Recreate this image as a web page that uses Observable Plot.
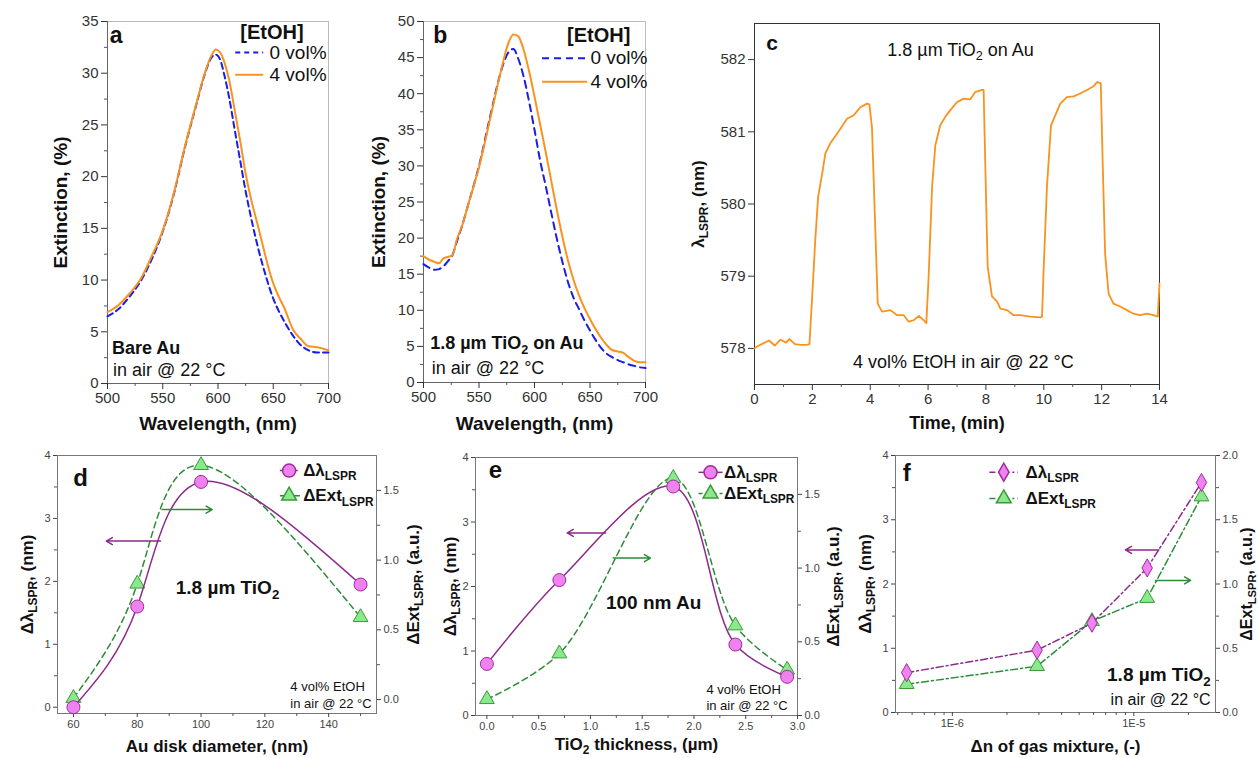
<!DOCTYPE html>
<html><head><meta charset="utf-8">
<script src="https://cdn.jsdelivr.net/npm/d3@7"></script>
<script src="https://cdn.jsdelivr.net/npm/@observablehq/plot@0.6"></script>
<style>
html,body{margin:0;padding:0;background:#fff;}
#fig{position:relative;width:1258px;height:758px;overflow:hidden;background:#fff;font-family:"Liberation Sans",Arial,sans-serif;}
</style>
</head><body><div id="fig"></div>
<script>
// ---------- DATA ----------
// panel a: bare Au spectra
const aWl   = [500,510,520,530,540,550,560,570,580,588,594,598,602,606,610,615,620,625,630,637,643,649,655,660,668,675,682,690,700];
const aExt4 = [6.9,7.6,8.7,10.1,12.3,14.8,18.4,22.9,26.9,30.0,31.7,32.3,32.0,31.0,29.4,26.5,23.5,20.3,17.8,14.9,12.3,10.0,8.4,7.3,5.2,4.3,3.6,3.5,3.2];
const aExt0 = [6.5,7.2,8.4,9.9,12.0,14.7,18.3,22.8,26.8,29.9,31.5,31.8,31.3,29.7,27.7,24.6,21.6,18.6,16.0,12.8,10.5,8.5,7.0,6.0,4.6,3.7,3.2,3.0,3.0];
// panel b: 1.8 um TiO2 on Au spectra
const bWl   = [500,505,510,514,518,522,526,530,535,540,550,560,570,576,581,585,590,595,600,605,610,615,620,625,630,635,640,645,650,655,660,665,670,675,680,685,690,695,700];
const bExt4 = [17.5,17.0,16.7,16.5,17.2,17.4,17.6,19.8,21.8,24.5,29.8,36.5,43.3,46.8,48.2,48.0,46.2,43.2,39.6,35.8,32.0,28.0,24.0,20.3,17.0,14.3,12.1,10.3,8.8,7.4,6.2,5.2,4.5,4.3,4.1,3.5,3.0,2.8,2.8];
const bExt0 = [16.4,15.9,15.6,15.7,16.1,16.8,17.6,19.5,21.8,24.5,30.0,36.8,43.2,45.6,46.2,45.0,42.5,39.0,35.0,30.8,27.3,23.6,20.0,16.8,14.0,11.8,10.2,8.6,7.2,5.9,4.8,4.0,3.5,3.1,2.8,2.5,2.3,2.1,2.0];
// panel c: time trace
const cTime = [0,0.1,0.3,0.5,0.7,0.9,1.1,1.2,1.4,1.6,1.8,1.9,2.0,2.1,2.2,2.34,2.45,2.62,2.9,3.2,3.43,3.66,3.89,3.97,4.06,4.18,4.26,4.41,4.7,4.93,5.16,5.33,5.5,5.68,5.85,5.94,6.02,6.14,6.25,6.42,6.6,6.77,7.0,7.23,7.46,7.63,7.86,7.92,7.98,8.06,8.21,8.38,8.5,8.73,8.96,9.19,9.53,9.88,9.94,9.99,10.11,10.25,10.4,10.57,10.8,11.03,11.26,11.49,11.72,11.84,11.97,12.04,12.12,12.24,12.41,12.64,12.87,13.1,13.33,13.56,13.79,13.94,14.0];
const cLambda = [578.0,578.03,578.07,578.11,578.04,578.12,578.08,578.13,578.06,578.05,578.05,578.06,578.76,579.5,580.1,580.42,580.7,580.84,581.0,581.18,581.23,581.34,581.39,581.38,581.07,579.6,578.62,578.51,578.53,578.46,578.46,578.37,578.39,578.45,578.39,578.35,579.0,580.24,580.81,581.09,581.21,581.3,581.41,581.46,581.45,581.55,581.58,581.58,580.51,579.13,578.72,578.65,578.55,578.53,578.46,578.46,578.44,578.43,578.44,579.04,580.24,581.09,581.23,581.39,581.48,581.49,581.53,581.58,581.63,581.69,581.67,580.51,579.31,578.76,578.62,578.58,578.53,578.48,578.46,578.48,578.46,578.44,578.9];
// panel d
const dDiam  = [60,80,100,150];
const dShift = [0,1.6,3.58,1.95];
const dExt   = [0.01,0.83,1.68,0.59];
// panel e
const eThick = [0,0.7,1.8,2.4,2.9];
const eShift = [0.8,2.1,3.55,1.1,0.6];
const eExt   = [0.11,0.42,1.61,0.61,0.31];
// panel f
const fDn    = [5.6e-7,2.93e-6,5.88e-6,1.185e-5,2.36e-5];
const fShift = [0.62,0.97,1.39,2.25,3.58];
const fExt   = [0.22,0.36,0.71,0.89,1.68];

// ticks
const abXTicks = [500,550,600,650,700], abXMinor = [525,575,625,675];
const aYTicks = [0,5,10,15,20,25,30,35], aYMinor = [2.5,7.5,12.5,17.5,22.5,27.5,32.5];
const bYTicks = [0,5,10,15,20,25,30,35,40,45,50], bYMinor = [2.5,7.5,12.5,17.5,22.5,27.5,32.5,37.5,42.5,47.5];
const cXTicks = [0,2,4,6,8,10,12,14], cXMinor = [1,3,5,7,9,11,13], cYTicks = [578,579,580,581,582];
const dXTicks = [60,80,100,120,140], dXMinor = [70,90,110,130,150];
const eXTicks = [0,0.5,1,1.5,2,2.5,3], eXMinor = [0.25,0.75,1.25,1.75,2.25,2.75];
const fXTicks = [1e-6,1e-5], fXTickLabels = ["1E-6","1E-5"];
const fXMinor = [5e-7,6e-7,7e-7,8e-7,9e-7,2e-6,3e-6,4e-6,5e-6,6e-6,7e-6,8e-6,9e-6,2e-5];
const lTicks = [0,1,2,3,4], lMinor = [0.5,1.5,2.5,3.5];
const rTicks = [0,0.5,1,1.5], rMinor = [0.25,0.75,1.25];
const fRTicks = [0,0.5,1,1.5,2], fRMinor = [0.25,0.75,1.25,1.75];

// annotations (data-space positions)
const aNotes = [{k:"tag",x:507.9,y:33.6,t:"a"},{k:"headC",x:648.8,y:33.9,t:"[EtOH]"},{k:"key",x:646.6,y:32.0,t:"0 vol%"},{k:"key",x:646.6,y:29.85,t:"4 vol%"},{k:"head",x:504.0,y:3.4,t:"Bare Au"},{k:"body",x:504.9,y:1.25,t:"in air @ 22 °C"}];
const aKeys = [{s:"0",x1:615.6,x2:640.9,y:32.0},{s:"4",x1:615.6,x2:640.9,y:29.85}];
const bNotes = [{k:"tag",x:515.1,y:48.0,t:"b"},{k:"headC",x:657.9,y:48.0,t:"[EtOH]"},{k:"key",x:650.4,y:44.9,t:"0 vol%"},{k:"key",x:650.4,y:41.65,t:"4 vol%"},{k:"head",x:506,y:5.4,t:"1.8 µm TiO_{2} on Au"},{k:"body",x:507.5,y:2.0,t:"in air @ 22 °C"}];
const bKeys = [{s:"0",x1:606.8,x2:647.4,y:44.9},{s:"4",x1:606.8,x2:647.4,y:41.65}];
const cNotes = [{k:"tag",x:0.61,y:582.22,t:"c"},{k:"bodyC",x:7.12,y:582.13,t:"1.8 µm TiO_{2} on Au"},{k:"bodyC",x:7.22,y:577.81,t:"4 vol% EtOH in air @ 22 °C"}];
const dNotes = [{k:"tag",x:62.2,y:3.63,t:"d"},{k:"headC",x:108.3,y:1.89,t:"1.8 µm TiO_{2}"},{k:"small",x:128,y:0.32,t:"4 vol% EtOH"},{k:"small",x:128,y:0.06,t:"in air @ 22 °C"},{k:"key",x:132,y:3.76,t:"Δλ_{LSPR}"},{k:"key",x:132,y:3.36,t:"ΔExt_{LSPR}"}];
const dKeys = [{s:"shift",x1:124.7,x2:131.0,xm:127.6,y:3.76},{s:"ext",x1:124.7,x2:131.0,xm:127.6,y:3.36}];
const dArrows = [{s:"shift",x1:87.3,x2:70.3,y:2.64},{s:"ext",x1:87.8,x2:103.5,y:3.14}];
const eNotes = [{k:"tag",x:0.083,y:3.8,t:"e"},{k:"headC",x:1.61,y:1.74,t:"100 nm Au"},{k:"small",x:2.12,y:0.40,t:"4 vol% EtOH"},{k:"small",x:2.12,y:0.144,t:"in air @ 22 °C"},{k:"key",x:2.29,y:3.77,t:"Δλ_{LSPR}"},{k:"key",x:2.29,y:3.44,t:"ΔExt_{LSPR}"}];
const eKeys = [{s:"shift",x1:2.044,x2:2.276,xm:2.16,y:3.77},{s:"ext",x1:2.044,x2:2.276,xm:2.16,y:3.44}];
const eArrows = [{s:"shift",x1:1.146,x2:0.776,y:2.83},{s:"ext",x1:1.22,x2:1.58,y:2.44}];
const fNotes = [{k:"tag",x:5.6e-7,y:3.72,t:"f"},{k:"headE",x:2.65e-5,y:0.58,t:"1.8 µm TiO_{2}"},{k:"bodyE",x:2.65e-5,y:0.2,t:"in air @ 22 °C"},{k:"key",x:2.53e-6,y:3.74,t:"Δλ_{LSPR}"},{k:"key",x:2.53e-6,y:3.33,t:"ΔExt_{LSPR}"}];
const fKeys = [{s:"shift",x1:1.6e-6,x2:2.3e-6,xm:1.92e-6,y:3.74},{s:"ext",x1:1.6e-6,x2:2.3e-6,xm:1.92e-6,y:3.33}];
const fArrows = [{s:"shift",x1:1.374e-5,x2:8.99e-6,y:2.53},{s:"ext",x1:1.318e-5,x2:2.056e-5,y:2.055}];

// ---------- STYLE ----------
const FONT = '"Liberation Sans", Arial, Helvetica, sans-serif';
const ORANGE="#f7931e", BLUE="#1c1ce8", PURPLE="#8a2a8a", VIOLET="#ee82ee", GREEN="#2e8b3a", LGREEN="#8ce88c";
const fig = document.getElementById("fig");
const zip = (xs, ys) => xs.map((x,i)=>({x, y: ys[i]}));
const plain = d => String(d);

function richText(svg){
  d3.select(svg).selectAll("text").each(function(){
    const t = this.textContent;
    if (!t.includes("_{")) return;
    const fs = parseFloat(getComputedStyle(this).fontSize) || 12;
    while (this.firstChild) this.removeChild(this.firstChild);
    let shifted = false;
    for (const p of t.split(/(_\{[^}]*\})/)) {
      if (!p) continue;
      const ts = document.createElementNS("http://www.w3.org/2000/svg","tspan");
      if (p.startsWith("_{")) { ts.textContent = p.slice(2,-1); ts.setAttribute("font-size", (fs*0.7).toFixed(1)); ts.setAttribute("dy", (fs*0.25).toFixed(1)); shifted = true; }
      else { ts.textContent = p; if (shifted) { ts.setAttribute("dy", (-fs*0.25).toFixed(1)); shifted = false; } }
      this.appendChild(ts);
    }
  });
}

function mount(frame, opts){
  const [x0,y0,x1,y1] = frame; const m = {t:30,r:80,b:70,l:80};
  const svg = Plot.plot({
    width:(x1-x0)+m.l+m.r, height:(y1-y0)+m.t+m.b,
    marginTop:m.t, marginRight:m.r, marginBottom:m.b, marginLeft:m.l,
    style:`background:transparent;overflow:visible;max-width:none;font-family:${FONT};`,
    ...opts
  });
  svg.style.position="absolute"; svg.style.left=(x0-m.l)+"px"; svg.style.top=(y0-m.t)+"px";
  fig.appendChild(svg); richText(svg); return svg;
}

function notes(arr, S){
  return Object.entries(S).map(([k,[fs,fw,ta]]) =>
    Plot.text(arr.filter(d=>d.k===k), {x:"x", y:"y", text:"t", fontSize:fs, fontWeight:fw, textAnchor:ta, lineAnchor:"middle", fill:"#111"}));
}
const xTitle = (t, dy, fs=19) => Plot.text([t], {frameAnchor:"bottom", dy, text:d=>d, fontSize:fs, fontWeight:"bold", textAnchor:"middle", lineAnchor:"middle", fill:"#111"});
const yTitle = (t, dx, side="left", fs=19) => Plot.text([t], {frameAnchor:side, dx, rotate:-90, text:d=>d, fontSize:fs, fontWeight:"bold", textAnchor:"middle", lineAnchor:"middle", fill:"#111"});
const ax = (f, ticks, o) => f(ticks, {label:null, tickSize:6, tickPadding:3, color:"#333", fontSize:15, tickFormat:plain, ...o});
const minor = (f, ticks, o) => f(ticks, {label:null, tickSize:3, tickFormat:()=>"", color:"#555", ...o});

// ---------- PANEL a ----------
{
  const xd=[500,700], yd=[0,35];
  mount([107,21,328,383], {
    x:{domain:xd, axis:null}, y:{domain:yd, axis:null},
    marks:[
      Plot.frame({stroke:"#bbb"}),
      Plot.ruleX([xd[0]],{stroke:"#666"}), Plot.ruleY([yd[0]],{stroke:"#666"}),
      ax(Plot.axisX, abXTicks, {}), minor(Plot.axisX, abXMinor, {}),
      ax(Plot.axisY, aYTicks, {}), minor(Plot.axisY, aYMinor, {}),
      Plot.line(zip(aWl,aExt0), {x:"x", y:"y", stroke:BLUE, strokeWidth:2, strokeDasharray:"6,4", curve:"monotone-x"}),
      Plot.line(zip(aWl,aExt4), {x:"x", y:"y", stroke:ORANGE, strokeWidth:2, curve:"monotone-x"}),
      Plot.link(aKeys.filter(d=>d.s==="0"), {x1:"x1", x2:"x2", y1:"y", y2:"y", stroke:BLUE, strokeWidth:2, strokeDasharray:"5,4"}),
      Plot.link(aKeys.filter(d=>d.s==="4"), {x1:"x1", x2:"x2", y1:"y", y2:"y", stroke:ORANGE, strokeWidth:2}),
      ...notes(aNotes, {tag:[23,"bold","middle"], headC:[20,"bold","middle"], key:[19,"normal","start"], head:[18,"bold","start"], body:[18,"normal","start"]}),
      xTitle("Wavelength, (nm)", 40), yTitle("Extinction, (%)", -47)
    ]});
}
// ---------- PANEL b ----------
{
  const xd=[500,700], yd=[0,50];
  mount([423,21,645,382], {
    x:{domain:xd, axis:null}, y:{domain:yd, axis:null},
    marks:[
      Plot.frame({stroke:"#bbb"}),
      Plot.ruleX([xd[0]],{stroke:"#666"}), Plot.ruleY([yd[0]],{stroke:"#666"}),
      ax(Plot.axisX, abXTicks, {}), minor(Plot.axisX, abXMinor, {}),
      ax(Plot.axisY, bYTicks, {}), minor(Plot.axisY, bYMinor, {}),
      Plot.line(zip(bWl,bExt0), {x:"x", y:"y", stroke:BLUE, strokeWidth:2, strokeDasharray:"7,5", curve:"monotone-x"}),
      Plot.line(zip(bWl,bExt4), {x:"x", y:"y", stroke:ORANGE, strokeWidth:2, curve:"monotone-x"}),
      Plot.link(bKeys.filter(d=>d.s==="0"), {x1:"x1", x2:"x2", y1:"y", y2:"y", stroke:BLUE, strokeWidth:2, strokeDasharray:"7,5"}),
      Plot.link(bKeys.filter(d=>d.s==="4"), {x1:"x1", x2:"x2", y1:"y", y2:"y", stroke:ORANGE, strokeWidth:2}),
      ...notes(bNotes, {tag:[23,"bold","middle"], headC:[20,"bold","middle"], key:[19,"normal","start"], head:[18,"bold","start"], body:[18,"normal","start"]}),
      xTitle("Wavelength, (nm)", 41), yTitle("Extinction, (%)", -45)
    ]});
}
// ---------- PANEL c ----------
{
  const xd=[0,14], yd=[577.5,582.5];
  mount([754,23,1159,384], {
    x:{domain:xd, axis:null}, y:{domain:yd, axis:null},
    marks:[
      Plot.frame({stroke:"#333"}),
      ax(Plot.axisX, cXTicks, {}), minor(Plot.axisX, cXMinor, {}),
      ax(Plot.axisY, cYTicks, {}),
      Plot.line(zip(cTime,cLambda), {x:"x", y:"y", stroke:ORANGE, strokeWidth:1.8}),
      ...notes(cNotes, {tag:[21,"bold","middle"], bodyC:[18,"normal","middle"]}),
      xTitle("Time, (min)", 39, 18), yTitle("λ_{LSPR}, (nm)", -56, "left", 17)
    ]});
}
// ---------- dual-axis panels ----------
function dual(p){
  const common = {x:{type:p.xType, domain:p.xd, axis:null}};
  const tickO = {fontSize:11, color:"#444"};
  const rMark = p.marker==="circle" ? 6.5 : 5.5;
  // ExtLSPR layer (right axis)
  mount(p.frame, {...common, y:{domain:p.yRd, axis:null}, marks:[
    ax(Plot.axisY, p.rT, {...tickO, anchor:"right", tickSize:4, tickFormat:d3.format(".1f")}),
    minor(Plot.axisY, p.rM, {anchor:"right"}),
    Plot.line(zip(p.xs,p.yE), {x:"x", y:"y", stroke:GREEN, strokeWidth:1.5, strokeDasharray:p.extDash, curve:p.curve}),
    Plot.dot(zip(p.xs,p.yE), {x:"x", y:"y", symbol:"triangle", r:5.5, fill:LGREEN, stroke:"#3a9a3a", strokeWidth:1}),
    yTitle("ΔExt_{LSPR}, (a.u.)", p.rDx, "right", p.rFs || 17)
  ]});
  // shift layer (left axis)
  mount(p.frame, {...common, y:{domain:p.yLd, axis:null}, marks:[
    Plot.frame({stroke:"#777"}),
    ax(Plot.axisX, p.xT, {...tickO, tickSize:4, tickFormat:p.xFmt}), minor(Plot.axisX, p.xM, {}),
    ax(Plot.axisY, lTicks, {...tickO, tickSize:4}), minor(Plot.axisY, lMinor, {}),
    Plot.line(zip(p.xs,p.yS), {x:"x", y:"y", stroke:PURPLE, strokeWidth:1.5, strokeDasharray:p.shiftDash, curve:p.curve}),
    Plot.dot(zip(p.xs,p.yS), {x:"x", y:"y", symbol:p.marker, r:rMark, fill:VIOLET, stroke:"#a02aa0", strokeWidth:1}),
    Plot.link(p.keys.filter(d=>d.s==="shift"), {x1:"x1", x2:"x2", y1:"y", y2:"y", stroke:PURPLE, strokeWidth:1.5, strokeDasharray:p.keyShiftDash}),
    Plot.link(p.keys.filter(d=>d.s==="ext"), {x1:"x1", x2:"x2", y1:"y", y2:"y", stroke:GREEN, strokeWidth:1.5, strokeDasharray:p.keyExtDash}),
    Plot.dot(p.keys.filter(d=>d.s==="shift"), {x:"xm", y:"y", symbol:p.marker, r:rMark, fill:VIOLET, stroke:"#a02aa0"}),
    Plot.dot(p.keys.filter(d=>d.s==="ext"), {x:"xm", y:"y", symbol:"triangle", r:5.5, fill:LGREEN, stroke:"#3a9a3a"}),
    Plot.arrow(p.arrows.filter(d=>d.s==="shift"), {x1:"x1", x2:"x2", y1:"y", y2:"y", stroke:PURPLE, strokeWidth:1.5, headLength:7, bend:0}),
    Plot.arrow(p.arrows.filter(d=>d.s==="ext"), {x1:"x1", x2:"x2", y1:"y", y2:"y", stroke:GREEN, strokeWidth:1.5, headLength:7, bend:0}),
    ...notes(p.notes, smallNotes),
    xTitle(p.xLabel, p.xDy, 17), yTitle("Δλ_{LSPR}, (nm)", p.lDx, "left", 17)
  ]});
}
const smallNotes = {tag:[24,"bold","middle"], headC:[19,"bold","middle"], headE:[19,"bold","end"], bodyE:[16,"normal","end"], small:[13,"normal","start"], key:[17,"bold","start"]};

dual({frame:[57,455,376,713], xs:dDiam, xd:[55,155], xType:"linear", yS:dShift, yE:dExt, yLd:[-0.1,4], yRd:[-0.1,1.75],
  rT:rTicks, rM:rMinor, xT:dXTicks, xM:dXMinor, xFmt:plain, shiftDash:null, extDash:"6,4", keyShiftDash:"4,3", keyExtDash:null,
  curve:"natural", keys:dKeys, arrows:dArrows, notes:dNotes, xLabel:"Au disk diameter, (nm)", xDy:33, lDx:-30, rDx:37, marker:"circle"});
dual({frame:[475,457,797,715], xs:eThick, xd:[-0.11,3.0], xType:"linear", yS:eShift, yE:eExt, yLd:[0,4], yRd:[0,1.75],
  rT:rTicks, rM:rMinor, xT:eXTicks, xM:eXMinor, xFmt:d3.format(".1f"), shiftDash:null, extDash:"6,4", keyShiftDash:null, keyExtDash:"4,3",
  curve:"catmull-rom", keys:eKeys, arrows:eArrows, notes:eNotes, xLabel:"TiO_{2} thickness, (µm)", xDy:29, lDx:-25, rDx:36, marker:"circle"});
dual({frame:[895,455,1215,712], xs:fDn, xd:[4.86e-7,2.82e-5], xType:"log", yS:fShift, yE:fExt, yLd:[0,4], yRd:[0,2],
  rT:fRTicks, rM:fRMinor, xT:fXTicks, xM:fXMinor, xFmt:d=>fXTickLabels[fXTicks.indexOf(d)], shiftDash:"7,3,2,3", extDash:"7,3,2,3", keyShiftDash:"6,3,2,3", keyExtDash:"6,3,2,3",
  curve:"linear", keys:fKeys, arrows:fArrows, notes:fNotes, xLabel:"Δn of gas mixture, (-)", xDy:34, lDx:-30, rDx:31, rFs:16, marker:"diamond"});
</script></body></html>
